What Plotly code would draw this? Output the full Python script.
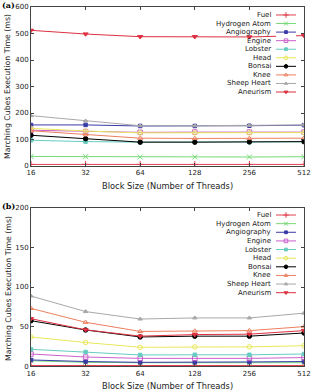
import math
import plotly.graph_objects as go

threads = [16, 32, 64, 128, 256, 512]
tick_labels = ["16", "32", "64", "128", "256", "512"]
series_names = ["Fuel", "Hydrogen Atom", "Angiography", "Engine", "Lobster",
                "Head", "Bonsai", "Knee", "Sheep Heart", "Aneurism"]

# panel (a)
a_fuel = [6, 6, 6, 6, 6, 6]
a_hydrogen = [36, 35, 34, 34, 34, 35]
a_angiography = [155, 155, 151, 151, 152, 154]
a_engine = [135, 130, 127, 128, 128, 128]
a_lobster = [97, 92, 90, 90, 90, 91]
a_head = [142, 132, 125, 125, 125, 126]
a_bonsai = [116, 103, 90, 90, 91, 92]
a_knee = [133, 118, 105, 104, 104, 105]
a_sheep = [190, 170, 152, 152, 153, 155]
a_aneurism = [512, 498, 488, 488, 487, 492]

# panel (b)
b_fuel = [1, 1, 1, 1, 1, 1]
b_hydrogen = [7, 5, 4.5, 4.5, 4.5, 4.5]
b_angiography = [8, 6, 5, 5, 5.5, 6]
b_engine = [15.5, 11.7, 10, 10, 10, 11]
b_lobster = [21.4, 18, 14.3, 14.5, 14.5, 15.5]
b_head = [37, 30, 24, 24.5, 24.5, 26]
b_bonsai = [57.5, 45.8, 37, 38, 38, 42]
b_knee = [73, 55.5, 44, 44.5, 45, 50]
b_sheep = [88.6, 69, 59.6, 61, 61, 67]
b_aneurism = [60, 46, 38, 40, 40.5, 45]

colors = ["#e0404f", "#77d977", "#3a3aa8", "#cc5fcc", "#66ccc0",
          "#e8e85a", "#000000", "#ee7f5f", "#a8a8a8", "#dd3040"]
symbols = ["cross-thin", "x-thin", "square", "square-open", "square",
           "circle-open", "circle", "triangle-up-open", "triangle-up", "triangle-down"]
msizes = [5, 5, 3.5, 4.5, 3.5, 4.5, 4.5, 4.5, 4, 4.5]

panel_a = [a_fuel, a_hydrogen, a_angiography, a_engine, a_lobster,
           a_head, a_bonsai, a_knee, a_sheep, a_aneurism]
panel_b = [b_fuel, b_hydrogen, b_angiography, b_engine, b_lobster,
           b_head, b_bonsai, b_knee, b_sheep, b_aneurism]

W, H = 311, 391
FONT = "DejaVu Sans"

def py(px):
    return 1 - px / H

fig = go.Figure()

def add_panel(data, xa, ya):
    for i, vals in enumerate(data):
        fig.add_trace(go.Scatter(
            x=threads, y=vals, mode="lines+markers", name=series_names[i],
            xaxis=xa, yaxis=ya, showlegend=False,
            line=dict(color=colors[i], width=1),
            marker=dict(symbol=symbols[i], size=msizes[i], color=colors[i],
                        line=dict(color=colors[i], width=1)),
        ))

def add_legend(xa, ya, top_px, step_px):
    for i, name in enumerate(series_names):
        fig.add_trace(go.Scatter(
            x=[0, 1], y=[i, i], mode="lines", xaxis=xa, yaxis=ya,
            showlegend=False, hoverinfo="skip",
            line=dict(color=colors[i], width=1)))
        fig.add_trace(go.Scatter(
            x=[0.5], y=[i], mode="markers", xaxis=xa, yaxis=ya,
            showlegend=False, hoverinfo="skip",
            marker=dict(symbol=symbols[i], size=msizes[i] * 0.8, color=colors[i],
                        line=dict(color=colors[i], width=1))))
        fig.add_annotation(x=273 / W, y=py(top_px + i * step_px), xref="paper",
                           yref="paper", text=name,
                           showarrow=False, xanchor="right", yanchor="middle",
                           font=dict(family=FONT, size=7, color="#222"))

add_panel(panel_a, "x", "y")
add_panel(panel_b, "x2", "y2")
add_legend("x3", "y3", 15, 8.56)
add_legend("x4", "y4", 215, 8.63)

xdom = [31 / W, 304 / W]
ax_common = dict(type="log", tickvals=threads, ticktext=tick_labels,
                 ticks="inside", ticklen=3, tickcolor="#444", mirror="allticks",
                 showline=True, linecolor="#444", linewidth=1, showgrid=False,
                 zeroline=False, tickfont=dict(family=FONT, size=7, color="#222"),
                 automargin=False, domain=xdom)
xr = [math.log10(16), math.log10(512)]
ay_common = dict(ticks="inside", ticklen=3, tickcolor="#444", mirror="allticks",
                 showline=True, linecolor="#444", linewidth=1, showgrid=False,
                 zeroline=False, tickfont=dict(family=FONT, size=7, color="#222"),
                 automargin=False)

fig.update_layout(
    width=W, height=H, margin=dict(l=0, r=0, t=0, b=0),
    paper_bgcolor="white", plot_bgcolor="white",
    xaxis=dict(**ax_common, range=xr, anchor="y"),
    yaxis=dict(**ay_common, range=[0, 600], dtick=100,
               domain=[py(166), py(7)], anchor="x"),
    xaxis2=dict(**ax_common, range=xr, anchor="y2"),
    yaxis2=dict(**ay_common, range=[0, 200], dtick=50,
                domain=[py(366.3), py(207.7)], anchor="x2"),
    xaxis3=dict(domain=[276 / W, 296 / W], range=[0, 1], visible=False, anchor="y3"),
    yaxis3=dict(domain=[py(96.3), py(10.7)], range=[9.5, -0.5], visible=False, anchor="x3"),
    xaxis4=dict(domain=[276 / W, 296 / W], range=[0, 1], visible=False, anchor="y4"),
    yaxis4=dict(domain=[py(297), py(210.7)], range=[9.5, -0.5], visible=False, anchor="x4"),
    showlegend=False,
)

xtitle = "Block Size (Number of Threads)"
ytitle = "Marching Cubes Execution Time (ms)"
xfont = dict(family=FONT, size=8.3, color="#222")
yfont = dict(family=FONT, size=7.8, color="#222")
for cy_x, cy_y in [(186.5, 87), (385.5, 289)]:
    fig.add_annotation(x=(31 + 304) / 2 / W, y=py(cy_x), xref="paper", yref="paper",
                       text=xtitle, showarrow=False, font=xfont,
                       xanchor="center", yanchor="middle")
    fig.add_annotation(x=8 / W, y=py(cy_y), xref="paper", yref="paper",
                       text=ytitle, showarrow=False, font=yfont, textangle=-90,
                       xanchor="center", yanchor="middle")

lfont = dict(family="DejaVu Serif", size=8, color="#000")
fig.add_annotation(x=0, y=py(4.5), xref="paper", yref="paper", text="<b>(a)</b>",
                   showarrow=False, font=lfont, xanchor="left", yanchor="middle")
fig.add_annotation(x=0, y=py(206), xref="paper", yref="paper", text="<b>(b)</b>",
                   showarrow=False, font=lfont, xanchor="left", yanchor="middle")

fig.write_html("out.html")
